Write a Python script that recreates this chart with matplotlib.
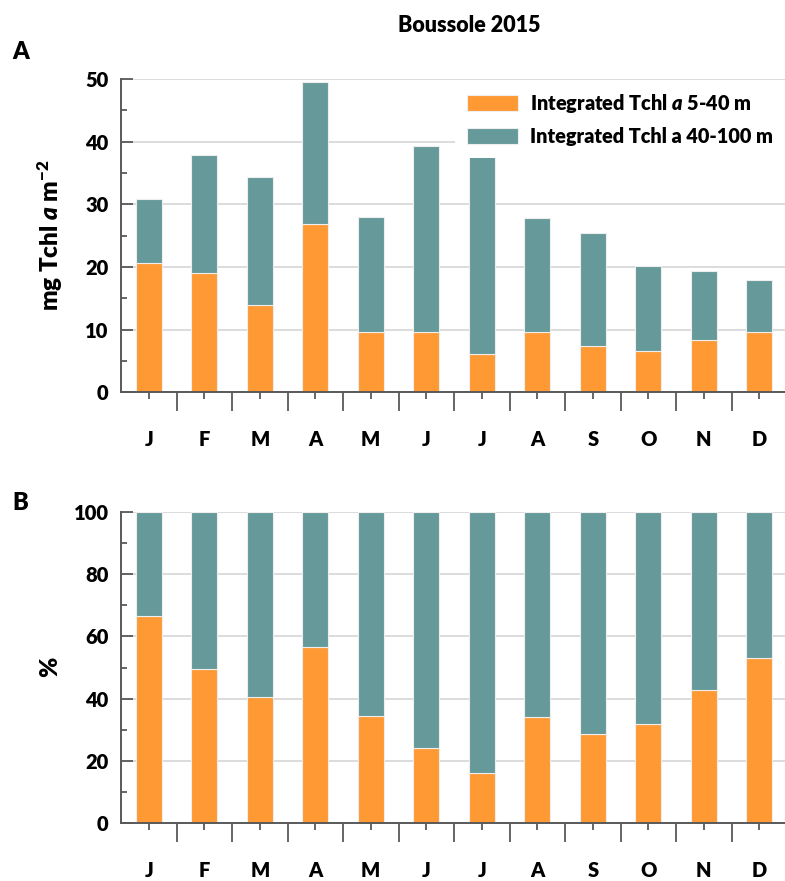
import matplotlib
matplotlib.use("Agg")
import matplotlib.pyplot as plt
import numpy as np

plt.rcParams['font.family'] = ['Lato', 'DejaVu Sans']
plt.rcParams['font.weight'] = 'heavy'
plt.rcParams['mathtext.fontset'] = 'custom'
plt.rcParams['mathtext.rm'] = 'Lato:heavy'
plt.rcParams['mathtext.it'] = 'Lato:italic:heavy'
plt.rcParams['mathtext.bf'] = 'Lato:heavy'
plt.rcParams['mathtext.default'] = 'rm'

WEIGHT = 'heavy'

months = ['J', 'F', 'M', 'A', 'M', 'J', 'J', 'A', 'S', 'O', 'N', 'D']
# Panel A: integrated Tchl a (mg m-2)
tchl_5_40 = [20.6, 19.1, 14.0, 26.8, 9.7, 9.6, 6.1, 9.6, 7.4, 6.6, 8.3, 9.6]
tchl_total = [30.85, 37.8, 34.4, 49.5, 28.0, 39.3, 38.2, 27.8, 25.5, 20.2, 19.3, 18.0]
tchl_40_100 = [t - s for t, s in zip(tchl_total, tchl_5_40)]
# Panel B: percentage of 5-40 m layer
pct_5_40 = [66.4, 49.5, 40.5, 56.6, 34.4, 24.1, 16.0, 34.0, 28.6, 31.8, 42.8, 53.0]
pct_40_100 = [100 - p for p in pct_5_40]

ORANGE = '#FF9933'
TEAL = '#669999'
SPINE = '#595959'
GRID = '#d9d9d9'

W, H = 785, 881
fig = plt.figure(figsize=(W / 100, H / 100), dpi=100)

def fx(px):
    return px / W

def fy(py):
    return 1 - py / H

ax1 = fig.add_axes([fx(121), fy(392.3), fx(787 - 121), fy(79) - fy(392.3)])
ax2 = fig.add_axes([fx(121), fy(823.3), fx(787 - 121), fy(511.7) - fy(823.3)])

x = np.arange(len(months))
bw = 0.47

def style(ax, ymax, step):
    ax.set_xlim(-0.5, 11.5)
    ax.set_ylim(0, ymax)
    ax.set_axisbelow(True)
    ax.yaxis.grid(True, color=GRID, linewidth=1.3)
    for s in ['top', 'right']:
        ax.spines[s].set_visible(False)
    for s in ['left', 'bottom']:
        ax.spines[s].set_color(SPINE)
        ax.spines[s].set_linewidth(1.4)
    ax.set_yticks(np.arange(0, ymax + 1, step))
    ax.set_yticks(np.arange(step / 2, ymax, step), minor=True)
    ax.tick_params(axis='y', which='major', direction='in', length=8.5, width=1.3,
                   color=SPINE, labelsize=14.5, pad=9)
    ax.tick_params(axis='y', which='minor', direction='in', length=4.5, width=1.3,
                   color=SPINE)
    # x: long ticks at boundaries (major, no labels), short ticks at bar centres (minor, labelled)
    ax.set_xticks(np.arange(0.5, 11.0, 1.0))
    ax.set_xticklabels([])
    ax.set_xticks(x, minor=True)
    ax.set_xticklabels(months, minor=True)
    ax.tick_params(axis='x', which='major', direction='out', length=13.5, width=1.3,
                   color=SPINE)
    ax.tick_params(axis='x', which='minor', direction='out', length=5, width=1.3,
                   color=SPINE, labelsize=14.5, pad=22)
    for lab in ax.get_yticklabels() + ax.get_xticklabels(minor=True):
        lab.set_fontweight(WEIGHT)

style(ax1, 50, 10)
style(ax2, 100, 20)

ax1.bar(x, tchl_5_40, bw, color=ORANGE, edgecolor='#eeeeee', linewidth=0.8,
        label='Integrated Tchl $\\mathit{a}$ 5-40 m')
ax1.bar(x, tchl_40_100, bw, bottom=tchl_5_40, color=TEAL, edgecolor='#eeeeee',
        linewidth=0.8, label='Integrated Tchl a 40-100 m')
ax2.bar(x, pct_5_40, bw, color=ORANGE, edgecolor='#eeeeee', linewidth=0.8)
ax2.bar(x, pct_40_100, bw, bottom=pct_5_40, color=TEAL, edgecolor='#eeeeee', linewidth=0.8)

leg = ax1.legend(loc='upper left', bbox_to_anchor=(fx(455), fy(80)),
                 bbox_transform=fig.transFigure, frameon=True, fancybox=False,
                 facecolor='white', edgecolor='none', framealpha=1,
                 fontsize=14.3, handlelength=2.55, handleheight=0.85, handletextpad=0.65,
                 labelspacing=0.6, borderpad=0.6, borderaxespad=0)
for t in leg.get_texts():
    t.set_fontweight(WEIGHT)

fig.text(fx(469), fy(25), 'Boussole 2015', ha='center', va='center', fontsize=15.5,
         fontweight=WEIGHT)
fig.text(fx(21), fy(52), 'A', ha='center', va='center', fontsize=17, fontweight=WEIGHT)
fig.text(fx(20), fy(503), 'B', ha='center', va='center', fontsize=17, fontweight=WEIGHT)
fig.text(fx(50), fy(235), 'mg Tchl $\\mathit{a}$ m$^{-2}$', rotation=90, ha='center',
         va='center', fontsize=17.5, fontweight=WEIGHT)
fig.text(fx(50), fy(667), '%', rotation=90, ha='center', va='center', fontsize=17.5,
         fontweight=WEIGHT)

fig.savefig('out.png', dpi=100)
